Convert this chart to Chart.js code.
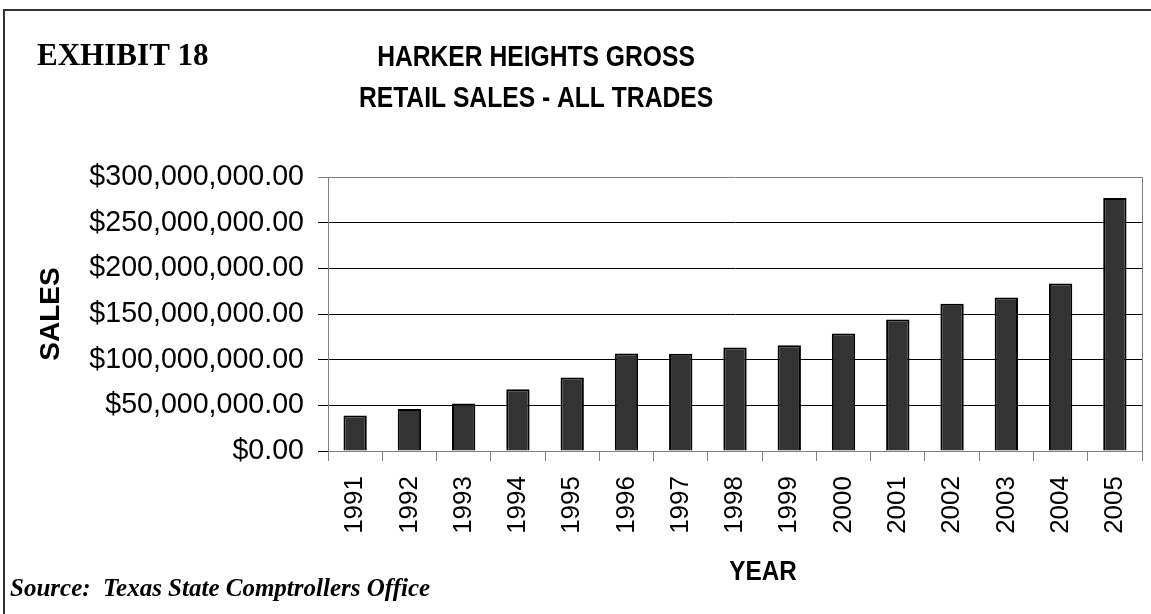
<!DOCTYPE html>
<html>
<head>
<meta charset="utf-8">
<title>Harker Heights Gross Retail Sales</title>
<script src="https://cdn.jsdelivr.net/npm/chart.js@4.4.1/dist/chart.umd.min.js"></script>
<style>
  html, body { margin: 0; padding: 0; background: #fff; }
  #wrap { width: 1151px; height: 614px; }
</style>
</head>
<body>
<div id="wrap"><canvas id="salesChart" width="1151" height="614"></canvas></div>
<script>
// Gross retail sales, all trades, by year
const years = ['1991', '1992', '1993', '1994', '1995', '1996', '1997', '1998',
               '1999', '2000', '2001', '2002', '2003', '2004', '2005'];
const sales = [39000000, 45900000, 52100000, 67500000, 80600000, 106800000, 106600000,
               113400000, 115900000, 128700000, 144000000, 161200000, 168000000,
               183300000, 277000000];
const yTicks = [0, 50000000, 100000000, 150000000, 200000000, 250000000, 300000000];

const ARIAL = '"Liberation Sans", Arial, sans-serif';
const TIMES = '"Liberation Serif", "Times New Roman", serif';

function money(v) {
    return '$' + v.toLocaleString('en-US', { minimumFractionDigits: 2, maximumFractionDigits: 2 });
}

// draws text squeezed horizontally to look like the narrow heading face
function narrowText(ctx, text, x, y, sx) {
    ctx.save();
    ctx.translate(x, y);
    ctx.scale(sx, 1);
    ctx.fillText(text, 0, 0);
    ctx.restore();
}

// page frame, headings, source note, x axis title and the right edge of the plot
const decorations = {
    id: 'decorations',
    afterDraw(chart) {
        const ctx = chart.ctx;
        const area = chart.chartArea;
        ctx.save();

        ctx.strokeStyle = '#333';
        ctx.lineWidth = 2;
        ctx.beginPath();
        ctx.moveTo(4, 614);
        ctx.lineTo(4, 10);
        ctx.lineTo(1151, 10);
        ctx.stroke();

        ctx.strokeStyle = '#808080';
        ctx.lineWidth = 1;
        ctx.beginPath();
        ctx.moveTo(Math.round(area.right) + 0.5, area.top);
        ctx.lineTo(Math.round(area.right) + 0.5, area.bottom);
        ctx.stroke();

        ctx.fillStyle = '#000';
        ctx.textBaseline = 'alphabetic';
        ctx.textAlign = 'left';
        ctx.font = 'bold 32px ' + TIMES;
        narrowText(ctx, 'EXHIBIT 18', 37, 65, 0.97);

        ctx.textAlign = 'center';
        ctx.font = 'bold 29px ' + ARIAL;
        narrowText(ctx, 'HARKER HEIGHTS GROSS', 536, 66, 0.85);
        narrowText(ctx, 'RETAIL SALES - ALL TRADES', 536, 107, 0.85);
        ctx.font = 'bold 27px ' + ARIAL;
        narrowText(ctx, 'YEAR', 763, 580, 0.9);

        ctx.textAlign = 'left';
        ctx.font = 'italic bold 25px ' + TIMES;
        ctx.fillText('Source:  Texas State Comptrollers Office', 10, 596);
        ctx.restore();
    }
};

new Chart(document.getElementById('salesChart'), {
    type: 'bar',
    data: {
        labels: years,
        datasets: [{
            label: 'Sales',
            data: sales,
            backgroundColor: '#333333',
            borderColor: '#000000',
            borderWidth: 2,
            categoryPercentage: 1.0,
            barPercentage: 0.43
        }]
    },
    options: {
        responsive: false,
        animation: false,
        layout: { autoPadding: false, padding: { top: 177, right: 9, bottom: 0, left: 0 } },
        plugins: {
            legend: { display: false },
            tooltip: { enabled: false }
        },
        scales: {
            x: {
                afterFit: scale => {
                    scale.height = 163;
                    scale.paddingLeft = 0;
                    scale.paddingRight = 0;
                },
                grid: {
                    offset: true,
                    drawOnChartArea: false,
                    tickLength: 10,
                    color: '#808080'
                },
                border: { color: '#808080' },
                ticks: {
                    color: '#000',
                    minRotation: 90,
                    maxRotation: 90,
                    padding: 15,
                    font: { family: ARIAL, size: 26 }
                }
            },
            y: {
                min: 0,
                max: 300000000,
                afterFit: scale => {
                    scale.width = 328;
                    scale.paddingTop = 0;
                    scale.paddingBottom = 0;
                },
                afterBuildTicks: scale => { scale.ticks = yTicks.map(v => ({ value: v })); },
                grid: {
                    tickLength: 10,
                    color: c => (c.tick && c.tick.value === 300000000) ? '#808080' : '#000'
                },
                border: { color: '#808080' },
                ticks: {
                    color: '#000',
                    padding: 14,
                    font: { family: ARIAL, size: 28.6 },
                    callback: v => money(v)
                },
                title: {
                    display: true,
                    text: 'SALES',
                    color: '#000',
                    font: { family: ARIAL, size: 28, weight: 'bold' },
                    padding: { top: 34, bottom: 0 }
                }
            }
        }
    },
    plugins: [decorations]
});
</script>
</body>
</html>
